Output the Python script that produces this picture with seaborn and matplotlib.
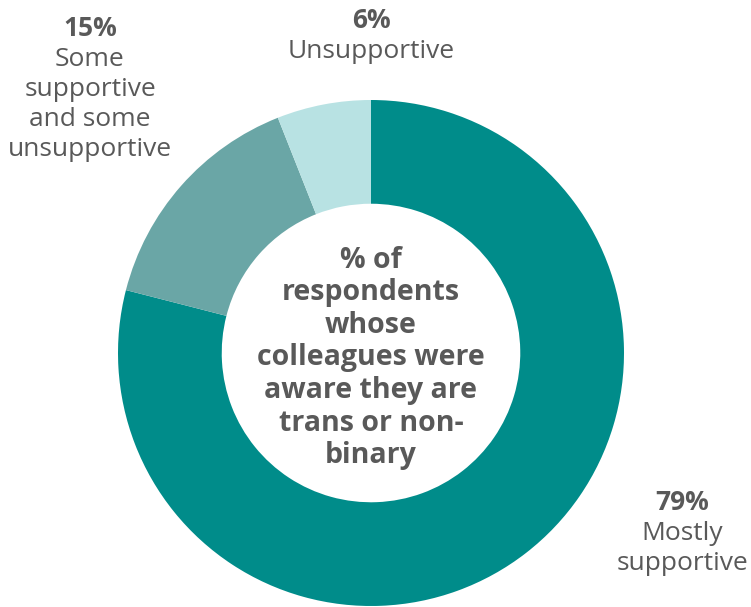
import matplotlib
matplotlib.use("Agg")
import matplotlib.pyplot as plt
import seaborn as sns

categories = ["Mostly supportive", "Some supportive and some unsupportive", "Unsupportive"]
label_lines = ["Mostly\nsupportive", "Some\nsupportive\nand some\nunsupportive", "Unsupportive"]
values = [79, 15, 6]
colors = ["#008C8A", "#6AA6A6", "#B8E2E3"]
center_text = "% of\nrespondents\nwhose\ncolleagues were\naware they are\ntrans or non-\nbinary"

sns.set_theme(style="white")
plt.rcParams["font.family"] = ["Open Sans", "DejaVu Sans"]
TXT = "#595959"

W, H = 751, 607
fig = plt.figure(figsize=(W / 100, H / 100), dpi=100)
ax = fig.add_axes([0, 0, 1, 1])

cx, cy, R = 371, H - 353, 253
ax.pie(values, colors=colors, startangle=90, counterclock=False,
       center=(cx, cy), radius=R, frame=True,
       wedgeprops=dict(width=R * 0.41, edgecolor="none"))
ax.set_xlim(0, W)
ax.set_ylim(0, H)
ax.set_aspect("equal")
ax.axis("off")

# label anchor: (x center, baseline of percent line, pixels from top)
pos = [(682, 510), (90, 36), (371, 28)]
fs = 19
step = 30
for (x, y), v, lab in zip(pos, values, label_lines):
    ax.text(x, H - y, f"{v}%", ha="center", va="baseline", fontsize=fs,
            fontweight="bold", color=TXT)
    for k, line in enumerate(lab.split("\n"), start=1):
        ax.text(x, H - y - step * k, line, ha="center", va="baseline",
                fontsize=fs, color=TXT)

ax.text(cx, H - 358, center_text, ha="center", va="center", fontsize=20.5,
        fontweight="bold", color=TXT, linespacing=1.16)

fig.savefig("out.png", dpi=100)
